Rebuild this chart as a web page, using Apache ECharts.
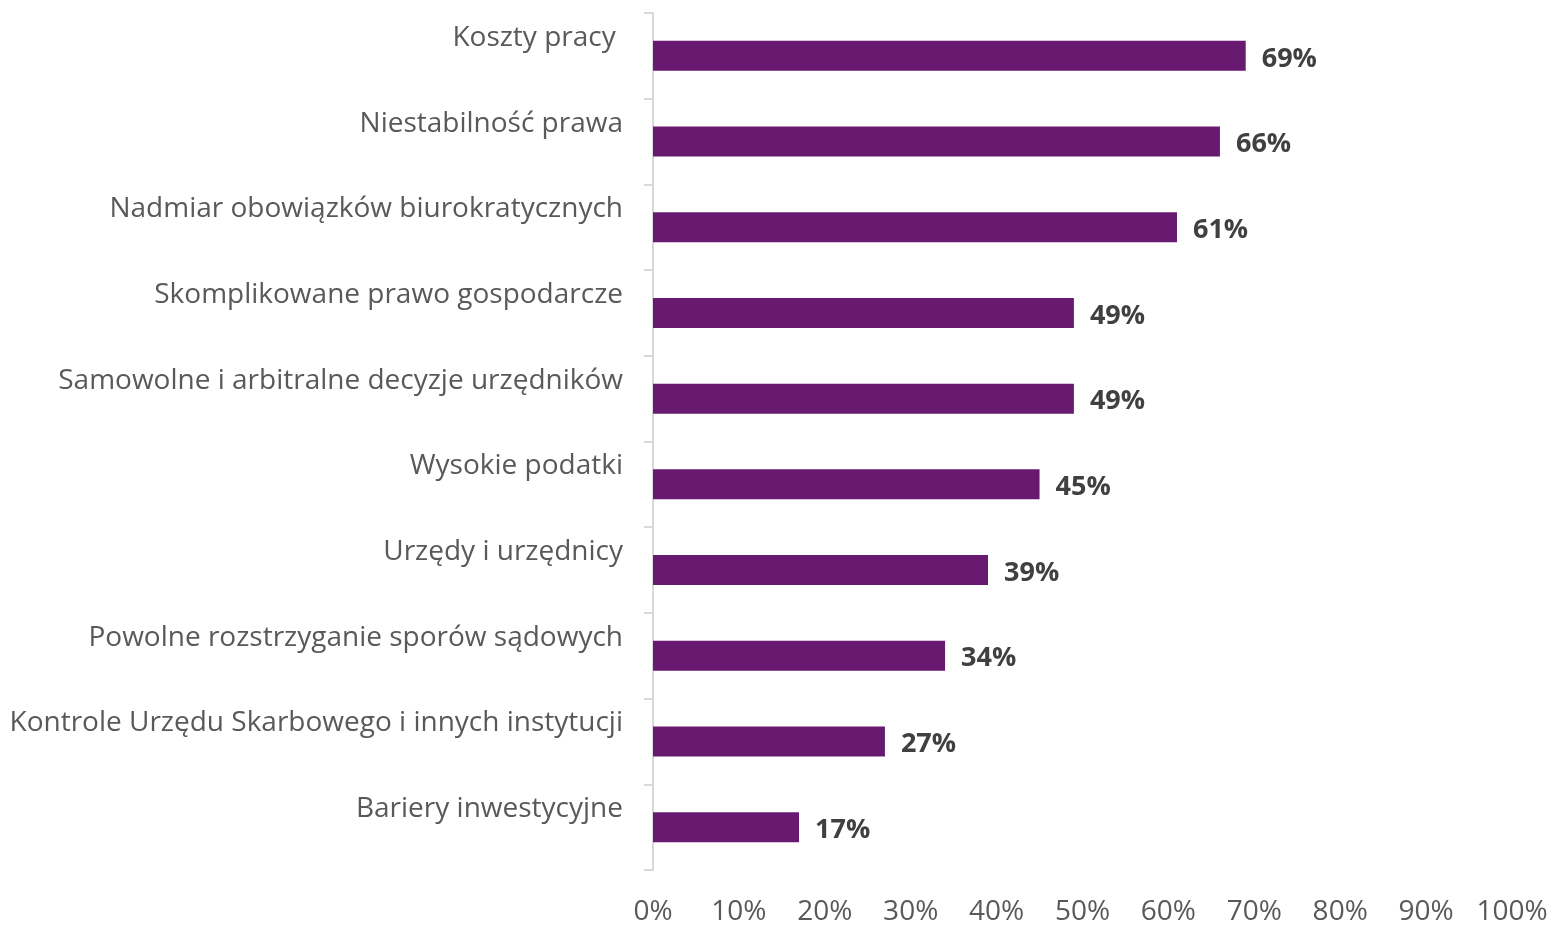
<!DOCTYPE html>
<html><head><meta charset="utf-8">
<script src="https://cdn.jsdelivr.net/npm/echarts@6/dist/echarts.min.js"></script>
<style>html,body{margin:0;padding:0;background:#fff}#c{width:1552px;height:925px}</style>
</head><body><div id="c"></div>
<script>
const categories = ["Koszty pracy ", "Niestabilność prawa", "Nadmiar obowiązków biurokratycznych", "Skomplikowane prawo gospodarcze", "Samowolne i arbitralne decyzje urzędników", "Wysokie podatki", "Urzędy i urzędnicy", "Powolne rozstrzyganie sporów sądowych", "Kontrole Urzędu Skarbowego i innych instytucji", "Bariery inwestycyjne"];
const values = [69, 66, 61, 49, 49, 45, 39, 34, 27, 17];
const xTicks = [0, 10, 20, 30, 40, 50, 60, 70, 80, 90, 100];

const chart = echarts.init(document.getElementById('c'));
const font = "'Open Sans', 'Noto Sans', sans-serif";
chart.setOption({
  animation: false,
  grid: {left: 653, right: 40, top: 13, bottom: 55, containLabel: false, outerBoundsMode: 'none'},
  xAxis: {
    type: 'value', min: xTicks[0], max: xTicks[xTicks.length-1], interval: 10,
    axisLine: {show: false}, axisTick: {show: false}, splitLine: {show: false},
    axisLabel: {formatter: v => v + '%', color: '#595959', fontSize: 28, fontFamily: font, margin: 28}
  },
  yAxis: {
    type: 'category', data: categories, inverse: true,
    axisLine: {show: true, lineStyle: {color: '#d9d9d9', width: 2}},
    axisTick: {show: true, length: 9, lineStyle: {color: '#d9d9d9', width: 2}},
    axisLabel: {color: '#595959', fontSize: 28, fontFamily: font, margin: 30, verticalAlign: 'bottom', lineHeight: 36}
  },
  series: [{
    type: 'bar', data: values, barWidth: 30,
    itemStyle: {color: '#671A70'},
    label: {show: true, position: 'right', distance: 16, formatter: p => p.value + '%',
      color: '#404040', fontWeight: 'bold', fontSize: 27, fontFamily: font, offset: [0, 3]}
  }]
});
</script></body></html>
